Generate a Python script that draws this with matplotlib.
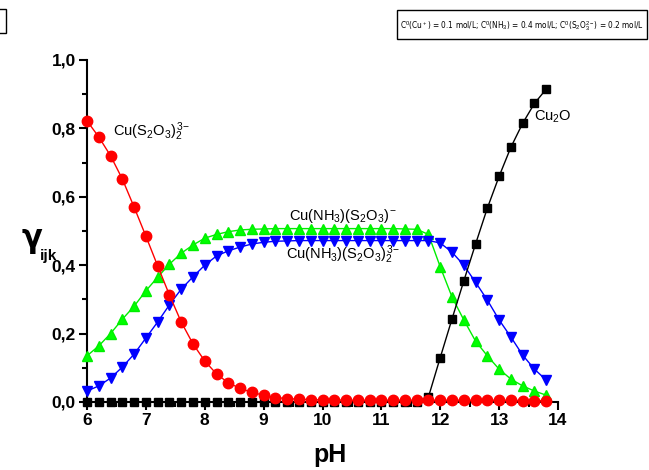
import matplotlib
matplotlib.use("Agg")
import matplotlib.pyplot as plt
from matplotlib import font_manager
from matplotlib.font_manager import FontProperties
from matplotlib.patches import Rectangle
from matplotlib.ticker import MultipleLocator, FuncFormatter

plt.rcParams['font.family'] = ['Liberation Sans', 'DejaVu Sans']
plt.rcParams['mathtext.fontset'] = 'custom'
plt.rcParams['mathtext.rm'] = 'Liberation Sans'
plt.rcParams['mathtext.it'] = 'Liberation Sans:italic'
plt.rcParams['mathtext.bf'] = 'Liberation Sans:bold'


def condensed_face():
    """Return a regular condensed/narrow sans face if one is installed."""
    for f in font_manager.fontManager.ttflist:
        narrow = ('Narrow' in f.name or 'Condensed' in f.name
                  or str(f.stretch) in ('condensed', 'semi-condensed', '500', '600'))
        if narrow and f.style == 'normal' and f.weight in (400, 'normal', 'regular'):
            if 'Sans' in f.name or 'Roboto' in f.name:
                return FontProperties(fname=f.fname)
    return FontProperties(family='Liberation Sans')


# pH grid of the speciation calculation
ph = [6.0, 6.2, 6.4, 6.6, 6.8, 7.0, 7.2, 7.4, 7.6, 7.8,
      8.0, 8.2, 8.4, 8.6, 8.8, 9.0, 9.2, 9.4, 9.6, 9.8,
      10.0, 10.2, 10.4, 10.6, 10.8, 11.0, 11.2, 11.4, 11.6, 11.8,
      12.0, 12.2, 12.4, 12.6, 12.8, 13.0, 13.2, 13.4, 13.6, 13.8]

# molar fractions of each copper species
cu_s2o3_2 = [0.822, 0.775, 0.720, 0.652, 0.570, 0.485, 0.398, 0.313, 0.234, 0.170,
             0.120, 0.082, 0.056, 0.040, 0.028, 0.020, 0.013, 0.010, 0.008, 0.007,
             0.006, 0.006, 0.005, 0.005, 0.005, 0.005, 0.005, 0.005, 0.005, 0.005,
             0.005, 0.005, 0.005, 0.005, 0.005, 0.005, 0.005, 0.004, 0.004, 0.004]
cu_nh3_s2o3 = [0.135, 0.164, 0.200, 0.242, 0.280, 0.325, 0.365, 0.403, 0.435, 0.459,
               0.479, 0.490, 0.498, 0.503, 0.505, 0.506, 0.507, 0.507, 0.507, 0.507,
               0.507, 0.507, 0.507, 0.507, 0.507, 0.507, 0.507, 0.506, 0.505, 0.490,
               0.395, 0.307, 0.240, 0.178, 0.135, 0.096, 0.067, 0.047, 0.032, 0.020]
cu_nh3_s2o3_2 = [0.032, 0.047, 0.070, 0.102, 0.140, 0.187, 0.234, 0.284, 0.330, 0.366,
                 0.400, 0.427, 0.442, 0.453, 0.462, 0.467, 0.470, 0.471, 0.472, 0.472,
                 0.472, 0.472, 0.472, 0.472, 0.472, 0.472, 0.472, 0.472, 0.472, 0.472,
                 0.465, 0.438, 0.400, 0.350, 0.298, 0.240, 0.190, 0.137, 0.096, 0.064]
cu2o = [0.0, 0.0, 0.0, 0.0, 0.0, 0.0, 0.0, 0.0, 0.0, 0.0,
        0.0, 0.0, 0.0, 0.0, 0.0, 0.0, 0.0, 0.0, 0.0, 0.0,
        0.0, 0.0, 0.0, 0.0, 0.0, 0.0, 0.0, 0.0, 0.0, 0.015,
        0.130, 0.243, 0.354, 0.462, 0.567, 0.660, 0.745, 0.815, 0.873, 0.915]

W, H = 649, 470
fig = plt.figure(figsize=(W / 100, H / 100), dpi=100)
ax = fig.add_axes([87 / W, 1 - 402 / H, (558 - 87) / W, (402 - 60) / H])

ax.plot(ph, cu_nh3_s2o3, color='#00ee00', lw=1.0, marker='^', ms=7.5,
        mec='#00ee00', mfc='#00ff00', zorder=3, clip_on=False)
ax.plot(ph, cu_nh3_s2o3_2, color='#0000ff', lw=1.0, marker='v', ms=7.5,
        mec='#0000ff', mfc='#0000ff', zorder=3, clip_on=False)
ax.plot(ph, cu2o, color='black', lw=1.0, marker='s', ms=5.5,
        mec='black', mfc='black', zorder=4, clip_on=False)
ax.plot(ph, cu_s2o3_2, color='#ff0000', lw=1.0, marker='o', ms=7.5,
        mec='#ff0000', mfc='#ff0000', zorder=5, clip_on=False)

ax.set_xlim(6, 14)
ax.set_ylim(0, 1.0)
for side in ('top', 'right'):
    ax.spines[side].set_visible(False)
for side in ('left', 'bottom'):
    ax.spines[side].set_linewidth(1.5)

ax.xaxis.set_major_locator(MultipleLocator(1))
ax.xaxis.set_minor_locator(MultipleLocator(0.5))
ax.yaxis.set_major_locator(MultipleLocator(0.2))
ax.yaxis.set_minor_locator(MultipleLocator(0.1))
ax.yaxis.set_major_formatter(FuncFormatter(lambda v, p: f"{v:.1f}".replace('.', ',')))
ax.tick_params(which='major', direction='out', length=6, width=1.5,
               labelsize=12.5, pad=2)
ax.tick_params(which='minor', direction='out', length=3.5, width=1.5)
for lab in ax.get_xticklabels() + ax.get_yticklabels():
    lab.set_fontweight('bold')

# species labels
ax.text(6.45, 0.79, r'Cu(S$_2$O$_3$)$_2^{\,3\!-}$', fontsize=10.5, va='center')
ax.text(10.35, 0.545, r'Cu(NH$_3$)(S$_2$O$_3$)$^-$', fontsize=10.5,
        ha='center', va='center')
ax.text(10.35, 0.43, r'Cu(NH$_3$)(S$_2$O$_3$)$_2^{\,3\!-}$', fontsize=10.5,
        ha='center', va='center')
ax.text(13.6, 0.833, r'Cu$_2$O', fontsize=10.5, va='center')

# axis titles
fig.text(32 / W, 1 - 240 / H, 'γ', fontsize=22, family='DejaVu Sans',
         ha='center', va='center', fontweight='bold')
fig.text(40 / W, 1 - 256 / H, 'ijk', fontsize=11, fontweight='bold',
         ha='left', va='center')
fig.text(330 / W, 1 - 455 / H, 'pH', fontsize=18, fontweight='bold',
         ha='center', va='center')

# concentration note in its frame
fig.patches.append(Rectangle((397 / W, 1 - 39 / H), 250 / W, 29 / H,
                             transform=fig.transFigure, fc='white',
                             ec='black', lw=1.0))
note_prop = condensed_face()
note_prop.set_size(9)
note = fig.text(522 / W, 1 - 25 / H,
                r'C$^0$(Cu$^+$) = 0.1 mol/L; C$^0$(NH$_3$) = 0.4 mol/L; '
                r'C$^0$(S$_2$O$_3^{2-}$) = 0.2 mol/L',
                fontproperties=note_prop, ha='center', va='center', zorder=5)

# shrink the note until it fits inside the frame
fig.canvas.draw()
renderer = fig.canvas.get_renderer()
for _ in range(20):
    bb = note.get_window_extent(renderer)
    if bb.width <= 245:
        break
    note.set_fontsize(note.get_fontsize() * 245 / bb.width)
    fig.canvas.draw()

# frame fragment at top-left
fig.patches.append(Rectangle((-10 / W, 1 - 33 / H), 16 / W, 24 / H,
                             transform=fig.transFigure, fill=False,
                             ec='black', lw=1.0))

fig.savefig('out.png', dpi=100)
